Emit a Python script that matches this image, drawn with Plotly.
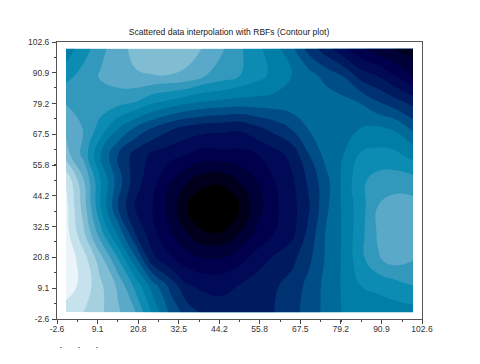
import plotly.graph_objects as go

x_vals = [0, 5, 10, 15, 20, 25, 30, 35, 40, 45, 50, 55, 60, 65, 70, 75, 80, 85, 90, 95, 100]
y_vals = [0, 10, 20, 30, 40, 50, 60, 70, 80, 90, 100]
z_rows = [
    [1.4, 2.0, 2.8, 3.85, 5.0, 7.2, 9.2, 10.5, 11.25, 11.6, 11.7, 11.4, 11.0, 10.35, 9.6, 8.7, 7.9, 7.65, 7.55, 7.45, 7.4],
    [0.5, 1.3, 2.8, 4.2, 6.3, 8.5, 10.3, 11.9, 12.25, 12.25, 11.95, 11.5, 11.15, 10.6, 9.7, 8.7, 7.85, 7.0, 6.75, 6.4, 6.0],
    [0.3, 1.5, 3.6, 5.9, 8.7, 11.7, 12.8, 13.5, 13.9, 13.9, 13.3, 12.5, 11.8, 11.3, 10.2, 8.85, 7.85, 6.3, 5.1, 4.6, 4.95],
    [0.6, 2.8, 5.6, 8.3, 11.0, 12.7, 13.9, 15.0, 15.9, 15.9, 15.0, 13.8, 13.0, 12.3, 10.7, 8.9, 7.85, 6.3, 4.85, 4.3, 4.4],
    [0.7, 3.4, 7.0, 10.0, 12.1, 13.0, 14.4, 16.05, 17.1, 17.1, 16.0, 14.5, 13.2, 12.4, 11.1, 9.2, 7.8, 6.4, 4.95, 4.5, 4.6],
    [1.1, 3.9, 7.0, 9.5, 11.6, 12.6, 13.9, 14.9, 15.6, 15.7, 14.9, 14.0, 13.0, 12.2, 10.8, 9.3, 7.75, 6.2, 5.6, 5.5, 5.6],
    [3.6, 5.3, 8.0, 10.0, 11.4, 12.2, 12.6, 13.0, 13.4, 13.3, 13.3, 13.0, 12.4, 11.7, 10.0, 8.6, 8.0, 6.9, 6.7, 6.8, 7.4],
    [4.2, 5.05, 6.4, 7.9, 9.1, 10.0, 10.8, 11.3, 11.6, 11.7, 11.8, 11.2, 10.6, 9.9, 8.9, 8.3, 8.15, 8.0, 7.9, 8.2, 9.3],
    [5.1, 5.1, 5.4, 5.6, 5.95, 6.75, 7.2, 7.7, 8.0, 8.2, 8.35, 8.35, 8.35, 8.3, 8.25, 8.4, 8.7, 9.1, 10.0, 10.7, 11.4],
    [6.4, 5.6, 4.9, 4.45, 4.1, 4.02, 4.02, 4.2, 4.95, 5.4, 5.95, 6.6, 7.3, 8.0, 8.6, 9.4, 10.1, 11.5, 12.1, 13.1, 14.1],
    [7.6, 6.5, 5.3, 4.4, 3.7, 3.35, 3.35, 3.6, 4.1, 4.9, 5.85, 6.7, 7.65, 8.75, 10.4, 11.6, 12.8, 13.8, 14.55, 15.1, 15.5],
]
band_colors = ["#EAF4F9", "#C6E2EC", "#A5D0E0", "#80BCD2", "#5AA9C8", "#3298BC", "#0C8CB2",
               "#007EA8", "#006A9A", "#004E88", "#003272", "#001A60", "#000A56", "#00004C",
               "#000038", "#00001C", "#000000"]
tick_vals = [-2.6, 9.1, 20.8, 32.5, 44.2, 55.8, 67.5, 79.2, 90.9, 102.6]
tick_text = ["-2.6", "9.1", "20.8", "32.5", "44.2", "55.8", "67.5", "79.2", "90.9", "102.6"]
title_text = "Scattered data interpolation with RBFs (Contour plot)"

n = len(band_colors)
scale = []
for i, c in enumerate(band_colors):
    scale += [[i / n, c], [(i + 1) / n, c]]

fig = go.Figure(go.Contour(
    x=x_vals, y=y_vals, z=z_rows,
    colorscale=scale, zmin=0, zmax=n, showscale=False,
    contours=dict(coloring="fill", start=0, end=n, size=1, showlines=False),
    line=dict(width=0, smoothing=1.3), hoverinfo="skip",
))

font = dict(family="Liberation Sans, Arial, sans-serif", size=8.5, color="#333333")
axis = dict(range=[-2.6, 102.6], tickmode="array", tickvals=tick_vals, ticktext=tick_text,
            ticks="outside", ticklen=4, tickcolor="#444444", tickwidth=1,
            showgrid=False, zeroline=False, showline=True, linecolor="#555555", linewidth=1,
            mirror=True, tickfont=font, tickangle=0,
            minor=dict(ticks="outside", ticklen=2, tick0=-2.6, dtick=5.85, tickcolor="#444444", showgrid=False))

fig.update_layout(
    width=472, height=356, margin=dict(l=49, r=58, t=34, b=45),
    paper_bgcolor="white", plot_bgcolor="white",
    xaxis=dict(axis, ticklabelstandoff=-2), yaxis=dict(axis, ticklabelstandoff=1),
    title=dict(text=title_text, font=dict(family="Liberation Sans, Arial, sans-serif", size=8.55, color="#222222"),
               x=221 / 472, xanchor="center", y=1 - 24 / 356, yanchor="middle"),
    shapes=[dict(type="rect", xref="paper", yref="paper",
                 x0=(px - 57.5) / 365, x1=(px - 56.5) / 365,
                 y0=(319 - 348) / 277, y1=(319 - 347) / 277,
                 fillcolor="#222222", line_width=0) for px in (61, 79, 97)],
)
fig.write_html("out.html")
